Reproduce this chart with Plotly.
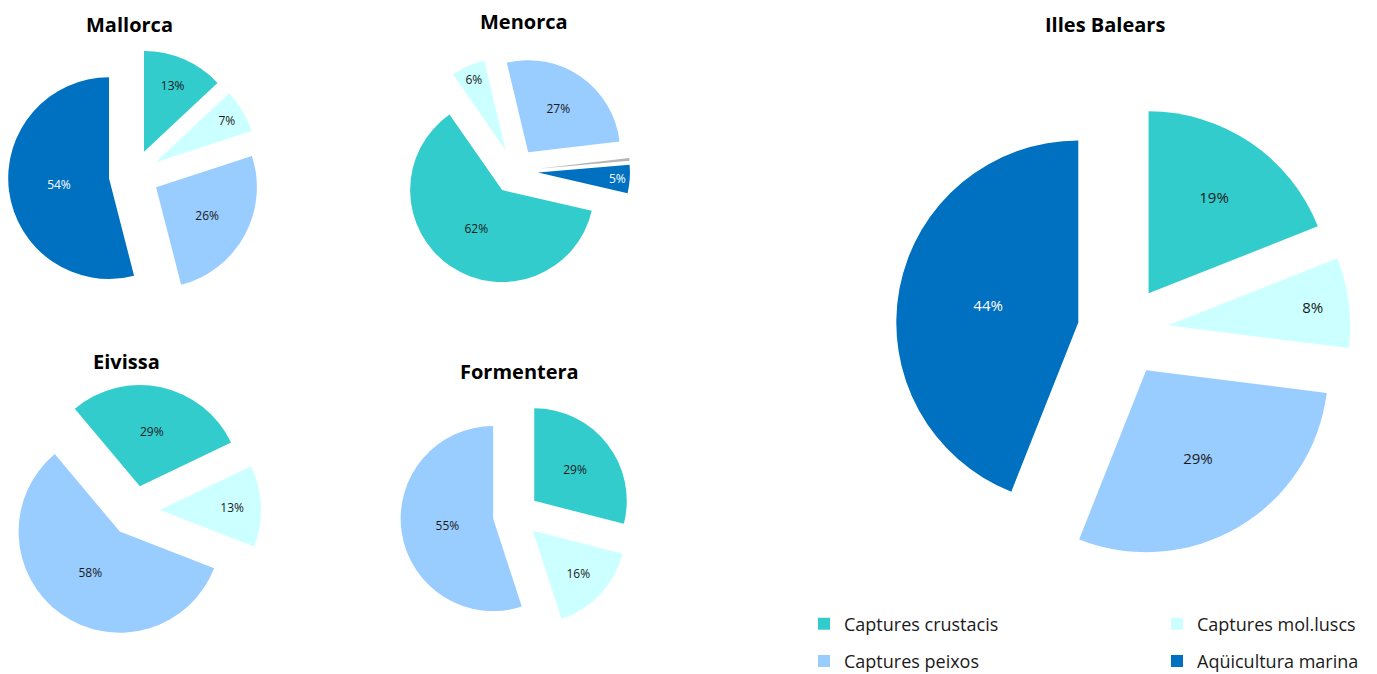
import plotly.graph_objects as go

# page body adds an 8px margin; the figure starts at (8, 8) of the page.
# It is made a bit taller than the window so the legend box never pushes the margins.
OFF = 8
W, H = 1361, 690

# ---- data ----
categories = ["Captures crustacis", "Captures mol.luscs", "Captures peixos", "Aqüicultura marina"]
other_label = "Altres"

mallorca_labels = categories
mallorca_values = [13, 7, 26, 54]

menorca_labels = ["Captures crustacis", "Captures mol.luscs", "Captures peixos", other_label, "Aqüicultura marina"]
menorca_values = [62, 6, 27, 0.5, 5]

eivissa_labels = ["Captures crustacis", "Captures mol.luscs", "Captures peixos"]
eivissa_values = [29, 13, 58]

formentera_labels = ["Captures crustacis", "Captures mol.luscs", "Captures peixos"]
formentera_values = [29, 16, 55]

illes_labels = categories
illes_values = [19, 8, 29, 44]

titles = ["Mallorca", "Menorca", "Eivissa", "Formentera", "Illes Balears"]

# ---- styles ----
colors = {
    "Captures crustacis": "#33CCCC",
    "Captures mol.luscs": "#CCFFFF",
    "Captures peixos": "#99CCFF",
    "Aqüicultura marina": "#0070C0",
    other_label: "#B4B4B4",
}
text_colors = {
    "Captures crustacis": "#1a1a1a",
    "Captures mol.luscs": "#1a1a1a",
    "Captures peixos": "#1a1a1a",
    "Aqüicultura marina": "#ffffff",
    other_label: "#1a1a1a",
}
PULL = 0.25
FONT = "Open Sans"


def px_x(x):
    return (x - OFF) / W


def px_y(y):
    return 1 - (y - OFF) / H


def dom(cx, cy, r):
    h = r * (1 + PULL)
    # keep the domain inside the figure
    h = min(h, cx - OFF - 0.01, OFF + W - cx - 0.01, cy - OFF - 0.01, OFF + H - cy - 0.01)
    return dict(x=[px_x(cx - h), px_x(cx + h)], y=[px_y(cy + h), px_y(cy - h)])


# (labels, values, centre px, radius px, rotation, text size, title pos) -- page pixels
specs = [
    (mallorca_labels, mallorca_values, (134, 175), 101, 0, 12, (129, 24)),
    (menorca_labels, menorca_values, (515, 171), 92, 103, 12, (524, 21)),
    (eivissa_labels, eivissa_values, (134.5, 511), 104, 320, 12, (126, 361)),
    (formentera_labels, formentera_values, (516, 515), 92.5, 0, 12, (520, 371)),
    (illes_labels, illes_values, (1123, 331), 182, 0, 15, (1105, 24)),
]

fig = go.Figure()
annotations = []
for (labels, values, (cx, cy), r, rot, tsize, (tx, ty)), title in zip(specs, titles):
    tmpl = ["" if l == other_label else "%{percent:.0%}" for l in labels]
    fig.add_trace(go.Pie(
        labels=labels,
        values=values,
        sort=False,
        direction="clockwise",
        rotation=rot,
        pull=[PULL] * len(values),
        marker=dict(colors=[colors[l] for l in labels], line=dict(width=0)),
        texttemplate=tmpl,
        textposition="inside",
        insidetextorientation="horizontal",
        textfont=dict(size=tsize, family=FONT, color=[text_colors[l] for l in labels]),
        domain=dom(cx, cy, r),
        showlegend=False,
        hoverinfo="label+percent",
        name=title,
    ))
    annotations.append(dict(
        text="<b>%s</b>" % title, x=px_x(tx), y=px_y(ty), xref="paper", yref="paper",
        xanchor="center", yanchor="middle", showarrow=False,
        font=dict(size=20, family=FONT, color="#000000"),
    ))

# legend: two columns, each a separate legend fed by legend-only tiny pies
columns = [([categories[0], categories[2]], "legend"), ([categories[1], categories[3]], "legend2")]
for labs, lg in columns:
    for lab in labs:
        fig.add_trace(go.Pie(
            labels=[lab], values=[1], sort=False,
            marker=dict(colors=[colors[lab]], line=dict(width=0)),
            textinfo="none", hoverinfo="skip",
            domain=dict(x=[0, 0.0003], y=[0, 0.0003]),
            showlegend=True, legend=lg, legendgroup=lab,
        ))

legend_common = dict(
    orientation="v", xanchor="left", yanchor="middle",
    font=dict(size=18, family=FONT, color="#1a1a1a"),
    tracegroupgap=11,
    bgcolor="rgba(0,0,0,0)", borderwidth=0,
)
fig.update_layout(
    template="none",
    width=W, height=H,
    margin=dict(l=0, r=0, t=0, b=0),
    paper_bgcolor="white",
    font=dict(family=FONT),
    annotations=annotations,
    legend=dict(x=px_x(804), y=px_y(642.5), **legend_common),
    legend2=dict(x=px_x(1157), y=px_y(642.5), **legend_common),
)

fig.write_html("out.html")
